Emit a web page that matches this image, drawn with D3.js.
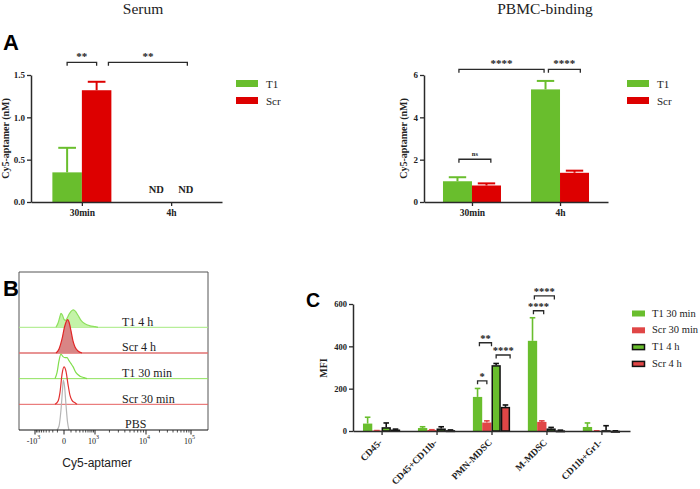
<!DOCTYPE html>
<html><head><meta charset="utf-8">
<script src="https://cdn.jsdelivr.net/npm/d3@7"></script>
<style>body{margin:0;background:#fff}svg{display:block}</style>
</head><body>
<svg id="c" width="700" height="489"></svg>
<script>
// ================= DATA =================
// Panel A - Serum
const serumCategories = ["30min", "4h"];
const serumSeries = ["T1", "Scr"];
const serumT1 = [0.35, null];          // null = ND
const serumT1Err = [0.64, null];
const serumScr = [1.32, null];
const serumScrErr = [1.42, null];
const serumTicks = [0, 0.5, 1.0, 1.5];
const serumND = [[1, "T1"], [1, "Scr"]];
const serumBrackets = [
  { from: [0, -0.5], to: [0, 0.5], y: 1.65, label: "**" },
  { from: [0, 0.9], to: [1, 0.55], y: 1.65, label: "**" }
];
// Panel A - PBMC-binding
const pbmcCategories = ["30min", "4h"];
const pbmcT1 = [0.98, 5.32];
const pbmcT1Err = [1.17, 5.72];
const pbmcScr = [0.78, 1.38];
const pbmcScrErr = [0.88, 1.48];
const pbmcTicks = [0, 2, 4, 6];
const pbmcBrackets = [
  { from: [0, -0.45], to: [1, -0.55], y: 6.27, label: "****" },
  { from: [1, -0.4], to: [1, 0.7], y: 6.27, label: "****" },
  { from: [0, -0.45], to: [0, 0.65], y: 2.02, label: "ns" }
];
// Panel B - flow histograms: [fluorescence, relative count]
const histSamples = ["T1 4 h", "Scr 4 h", "T1 30 min", "Scr 30 min", "PBS"];
const histT1_4h = [[-128,0],[-90,8],[-56,22],[-41,28],[-19.5,24],[0,16],[18,14],[38,18],[67,26],[100,32],[142,35],[189,32],[249,24],[335,14],[473,7],[699,3],[1000,1.2],[1162,0]];
const histScr_4h = [[-128,0],[-72,8],[-26,28],[6,52],[31,64],[48,67],[67,62],[100,44],[136,24],[178,12],[249,4],[366,0]];
const histT1_30 = [[-149,0],[-108,12],[-72,36],[-41,49],[-13,44],[12,42],[38,42],[67,36],[100,30],[136,24],[200,12],[304,5],[436,2],[556,0]];
const histScr_30 = [[-149,0],[-90,6],[-56,24],[-26,60],[0,75],[24.5,66],[52,40],[83,18],[117.5,8],[178,3],[224,0]];
const histPBS = [[-108,0],[-72,8],[-41,40],[-19.5,80],[-8.8,100],[5.9,88],[24.5,50],[45,16],[67,0]];
const histMajorTicks = [-1000, 0, 1000, 10000, 100000];
const histTickLabels = [["-10","3"], ["0",""], ["10","3"], ["10","4"], ["10","5"]];
// Panel C - MFI
const cellCategories = ["CD45-", "CD45+CD11b-", "PMN-MDSC", "M-MDSC", "CD11b+Gr1-"];
const cSeries = ["T1 30 min", "Scr 30 min", "T1 4 h", "Scr 4 h"];
const mfiT1_30 = [35, 14, 161, 426, 19];
const mfiT1_30Err = [65, 20, 201, 535, 38];
const mfiScr_30 = [2, 5, 40, 43, 1];
const mfiScr_30Err = [2, 6, 48, 48, 1];
const mfiT1_4 = [18, 12, 311, 12, 4];
const mfiT1_4Err = [38, 20, 319, 17, 25];
const mfiScr_4 = [7, 4, 114, 3, 1];
const mfiScr_4Err = [9, 5, 123, 4, 1];
const mfiTicks = [0, 200, 400, 600];
const cBrackets = [
  { from: [2, -1.5], to: [2, -0.5], y: 237, label: "*" },
  { from: [2, -1.3], to: [2, 0], y: 417, label: "**" },
  { from: [2, 0.5], to: [2, 2.0], y: 359, label: "****" },
  { from: [3, -1.4], to: [3, -0.3], y: 568, label: "****" },
  { from: [3, -1.3], to: [3, 0.85], y: 638, label: "****" }
];

// ================= STYLE =================
const SERIF = "'Liberation Serif','Times New Roman',serif";
const SANS = "'Liberation Sans',Arial,sans-serif";
const GREEN = "#69be2d", RED_A = "#dd0000", RED_C = "#e04646", AX = "#2a2a2a";
const svg = d3.select("#c");
svg.append("rect").attr("width", 700).attr("height", 489).attr("fill", "#fff");

function txt(g, x, y, s, o = {}) {
  return g.append("text").attr("x", x).attr("y", y).text(s)
    .attr("font-family", o.family || SERIF).attr("font-size", o.size || 10)
    .attr("font-weight", o.weight || "normal").attr("text-anchor", o.anchor || "start")
    .attr("fill", o.fill || "#222");
}
function styleAxis(g, size) {
  g.select(".domain").attr("stroke", AX).attr("stroke-width", 1.5);
  g.selectAll(".tick line").attr("stroke", AX).attr("stroke-width", 1.3);
  g.selectAll("text").attr("font-family", SERIF).attr("font-weight", "bold")
    .attr("font-size", size).attr("fill", "#222");
}

function barPanel(cfg) {
  const g = svg.append("g");
  const x = d3.scalePoint().domain(cfg.cats).range([cfg.x0, cfg.x1]).padding(cfg.pad);
  const y = d3.scaleLinear().domain([0, cfg.yMax]).range([cfg.yBot, cfg.yTop]);
  const n = cfg.series.length, bw = cfg.bw;
  cfg.series.forEach((s, si) => {
    const off = si - n / 2;
    s.vals.forEach((v, ci) => {
      if (v == null) return;
      const left = x(cfg.cats[ci]) + off * bw, cx = left + bw / 2;
      const e = s.errs[ci];
      g.append("line").attr("x1", cx).attr("x2", cx).attr("y1", y(v)).attr("y2", y(e))
        .attr("stroke", s.errColor).attr("stroke-width", cfg.errW);
      g.append("line").attr("x1", cx - bw * 0.3).attr("x2", cx + bw * 0.3).attr("y1", y(e)).attr("y2", y(e))
        .attr("stroke", s.errColor).attr("stroke-width", cfg.errW);
      const r = g.append("rect").attr("fill", s.color);
      if (s.stroke) {
        r.attr("x", left + 0.75).attr("y", y(v) + 0.75).attr("width", bw - 1.5)
          .attr("height", Math.max(0.5, y(0) - y(v) - 0.75)).attr("stroke", s.stroke).attr("stroke-width", 1.5);
      } else {
        r.attr("x", left).attr("y", y(v)).attr("width", bw).attr("height", y(0) - y(v));
      }
    });
  });
  const ya = g.append("g").attr("transform", `translate(${cfg.x0},0)`)
    .call(d3.axisLeft(y).tickValues(cfg.ticks).tickFormat(cfg.fmt).tickSize(4).tickSizeOuter(0).tickPadding(2));
  styleAxis(ya, cfg.tickFont);
  const xa = g.append("g").attr("class", "xaxis").attr("transform", `translate(0,${cfg.yBot})`)
    .call(d3.axisBottom(x).tickSize(4).tickSizeOuter(0).tickPadding(3));
  styleAxis(xa, cfg.xFont);
  const bxp = (p) => x(cfg.cats[p[0]]) + p[1] * bw;
  cfg.brackets.forEach(b => {
    const x1 = bxp(b.from), x2 = bxp(b.to), yy = y(b.y);
    g.append("path").attr("d", `M${x1},${yy + 3.5}V${yy}H${x2}V${yy + 3.5}`)
      .attr("fill", "none").attr("stroke", AX).attr("stroke-width", 1.3);
    const isNs = b.label === "ns";
    txt(g, (x1 + x2) / 2, isNs ? yy - 3 : yy + cfg.starDy, b.label,
      { size: isNs ? 6.5 : cfg.starSize, weight: "bold", anchor: "middle" });
  });
  return { g, x, y, xa };
}

// ---------- Panel A: Serum ----------
txt(svg, 143, 14, "Serum", { size: 15.5, anchor: "middle" });
const pA = barPanel({
  cats: serumCategories, x0: 31, x1: 222, pad: 0.57, yTop: 75, yBot: 202, yMax: 1.5,
  ticks: serumTicks, fmt: d3.format(".1f"), bw: 29.5, errW: 2, tickFont: 9, xFont: 9.5,
  starSize: 11, starDy: -2,
  series: [
    { vals: serumT1, errs: serumT1Err, color: GREEN, errColor: GREEN },
    { vals: serumScr, errs: serumScrErr, color: RED_A, errColor: RED_A }
  ],
  brackets: serumBrackets
});
serumND.forEach(([ci, s]) => {
  const off = serumSeries.indexOf(s) - 0.5;
  txt(pA.g, pA.x(serumCategories[ci]) + off * 29.5, 193.3, "ND", { size: 10.5, weight: "bold", anchor: "middle" });
});
txt(svg, 0, 0, "Cy5-aptamer (nM)", { size: 10, weight: "bold", anchor: "middle" })
  .attr("transform", "translate(9,138.5) rotate(-90)");
function legendA(x, y0) {
  serumSeries.forEach((s, i) => {
    svg.append("rect").attr("x", x).attr("y", y0 + i * 17).attr("width", 22).attr("height", 7)
      .attr("fill", i === 0 ? GREEN : RED_A);
    txt(svg, x + 30, y0 + i * 17 + 7.5, s, { size: 11 });
  });
}
legendA(236, 80);

// ---------- Panel A: PBMC-binding ----------
txt(svg, 545, 14, "PBMC-binding", { size: 15.5, anchor: "middle" });
barPanel({
  cats: pbmcCategories, x0: 424, x1: 608, pad: 0.545, yTop: 75, yBot: 202, yMax: 6,
  ticks: pbmcTicks, fmt: d3.format("d"), bw: 29, errW: 2, tickFont: 9, xFont: 9.5,
  starSize: 11, starDy: -2,
  series: [
    { vals: pbmcT1, errs: pbmcT1Err, color: GREEN, errColor: GREEN },
    { vals: pbmcScr, errs: pbmcScrErr, color: RED_A, errColor: RED_A }
  ],
  brackets: pbmcBrackets
});
txt(svg, 0, 0, "Cy5-aptamer (nM)", { size: 10, weight: "bold", anchor: "middle" })
  .attr("transform", "translate(406.5,138.5) rotate(-90)");
legendA(627, 80);

// Panel letters
txt(svg, 3, 50, "A", { family: SANS, size: 22, weight: "bold", fill: "#000" });
txt(svg, 3, 296, "B", { family: SANS, size: 22, weight: "bold", fill: "#000" });
txt(svg, 306, 307, "C", { family: SANS, size: 19.5, weight: "bold", fill: "#000" });

// ---------- Panel B: histograms ----------
const symT = v => Math.sign(v) * Math.log1p(Math.abs(v) / 200);
const boxL = 19, boxR = 208, boxT = 272, boxB = 430;
const hx = d3.scaleLinear().domain(histMajorTicks.map(symT)).range([35, 64, 95, 146, 191]);
const hTrack = d3.scalePoint().domain(histSamples).range([327.3, boxB]);
const hh = d3.scaleLinear().domain([0, 100]).range([0, 50]);
const histSeries = [histT1_4h, histScr_4h, histT1_30, histScr_30, histPBS];
const histStyle = [
  { line: "#a6ea80", stroke: "#8ee05e", fill: "#c4f3a8", lw: 1 },
  { line: "#e07070", stroke: "#e02525", fill: "#d98585", lw: 1.6 },
  { line: "#8fe25e", stroke: "#80de4c", fill: "none", lw: 1 },
  { line: "#e66060", stroke: "#e23030", fill: "none", lw: 1 },
  { line: "none", stroke: "#b5b5b5", fill: "none", lw: 1 }
];
const gB = svg.append("g");
gB.append("path").attr("d", `M${boxL},${boxB}V${boxT}H${boxR}V${boxB}`)
  .attr("fill", "none").attr("stroke", "#555").attr("stroke-width", 1);
histSeries.forEach((pts, i) => {
  const base = hTrack(histSamples[i]), st = histStyle[i];
  if (st.line !== "none")
    gB.append("line").attr("x1", boxL).attr("x2", boxR).attr("y1", base).attr("y2", base)
      .attr("stroke", st.line).attr("stroke-width", st.lw);
  const area = d3.area().x(d => hx(symT(d[0]))).y0(base).y1(d => base - hh(d[1])).curve(d3.curveMonotoneX);
  const line = d3.line().x(d => hx(symT(d[0]))).y(d => base - hh(d[1])).curve(d3.curveMonotoneX);
  if (st.fill !== "none") gB.append("path").attr("d", area(pts)).attr("fill", st.fill);
  gB.append("path").attr("d", line(pts)).attr("fill", "none").attr("stroke", st.stroke).attr("stroke-width", 1.2);
  txt(gB, histSamples[i] === "PBS" ? 125 : 122, base - 1.8, histSamples[i], { size: 12 });
});
// bottom axis
gB.append("line").attr("x1", boxL).attr("x2", boxR).attr("y1", boxB).attr("y2", boxB)
  .attr("stroke", "#111").attr("stroke-width", 1.2);
const minorTicks = [];
for (let k = 1; k <= 9; k++) { minorTicks.push(-k * 100, k * 100); }
for (let k = 2; k <= 9; k++) { minorTicks.push(k * 1000, k * 10000); }
minorTicks.forEach(v => gB.append("line").attr("x1", hx(symT(v))).attr("x2", hx(symT(v)))
  .attr("y1", boxB).attr("y2", boxB + 2.5).attr("stroke", "#222").attr("stroke-width", 0.8));
histMajorTicks.forEach((v, i) => {
  const xx = hx(symT(v));
  gB.append("line").attr("x1", xx).attr("x2", xx).attr("y1", boxB).attr("y2", boxB + 4.5)
    .attr("stroke", "#222").attr("stroke-width", 1);
  const [b, s] = histTickLabels[i];
  const t = gB.append("text").attr("x", xx - (s ? 1.5 : 0)).attr("y", 443.5).attr("text-anchor", "middle")
    .attr("font-family", SERIF).attr("font-size", 8).attr("fill", "#222");
  t.append("tspan").text(b);
  if (s) t.append("tspan").attr("dy", -5).attr("font-size", 6).text(s);
});
txt(gB, 97, 467, "Cy5-aptamer", { family: SANS, size: 12, anchor: "middle" });

// ---------- Panel C ----------
const pC = barPanel({
  cats: cellCategories, x0: 353, x1: 630, pad: 0.52, yTop: 304, yBot: 431, yMax: 600,
  ticks: mfiTicks, fmt: d3.format("d"), bw: 9.3, errW: 1.6, tickFont: 8.5, xFont: 9.5,
  starSize: 10.5, starDy: -1,
  series: [
    { vals: mfiT1_30, errs: mfiT1_30Err, color: GREEN, errColor: GREEN },
    { vals: mfiScr_30, errs: mfiScr_30Err, color: RED_C, errColor: RED_C },
    { vals: mfiT1_4, errs: mfiT1_4Err, color: GREEN, errColor: "#111", stroke: "#111" },
    { vals: mfiScr_4, errs: mfiScr_4Err, color: RED_C, errColor: "#111", stroke: "#111" }
  ],
  brackets: cBrackets
});
pC.xa.selectAll(".tick text").attr("x", -8).attr("y", 9).attr("dy", 0)
  .attr("transform", "rotate(-45)").attr("text-anchor", "end");
txt(svg, 0, 0, "MFI", { size: 10, weight: "bold", anchor: "middle" })
  .attr("transform", "translate(327,368) rotate(-90)");
const cLegStyle = [
  { fill: GREEN }, { fill: RED_C }, { fill: GREEN, stroke: "#111" }, { fill: RED_C, stroke: "#111" }
];
cSeries.forEach((s, i) => {
  const yy = 310.5 + i * 16.8, st = cLegStyle[i];
  const r = svg.append("rect").attr("fill", st.fill);
  if (st.stroke) r.attr("x", 632.5).attr("y", yy + 0.5).attr("width", 12).attr("height", 5)
    .attr("stroke", st.stroke).attr("stroke-width", 1.5);
  else r.attr("x", 632).attr("y", yy).attr("width", 13).attr("height", 6);
  txt(svg, 652, yy + 6, s, { size: 10.5 });
});
</script>
</body></html>
